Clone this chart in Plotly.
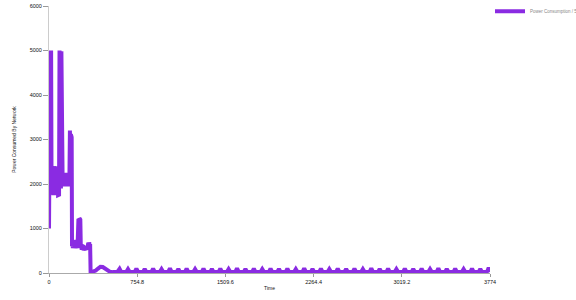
import plotly.graph_objects as go

series_name = "Power Consumption / 5"
x_title = "Time"
y_title = "Power Consumed By Network"

x_tick_vals = [0, 754.8, 1509.6, 2264.4, 3019.2, 3774]
x_tick_text = ["0", "754.8", "1509.6", "2264.4", "3019.2", "3774"]
y_tick_vals = [0, 1000, 2000, 3000, 4000, 5000, 6000]

time = [
    0, 2, 6, 10, 14, 18, 22,
    26, 30, 34, 38, 42, 46, 50, 54, 58, 62, 66, 70, 74, 78, 82, 86,
    90, 94, 98, 102, 106, 110, 114, 117,
    120, 124, 128, 132, 136, 140, 144, 148, 152, 156, 160, 164, 168,
    171, 175, 179, 183, 187, 191, 194, 197,
    200, 204, 208, 212, 216, 220, 224, 228, 232, 236, 240, 244, 248,
    252, 256, 260, 264, 268, 272,
    276, 280, 284, 288, 292, 296, 300, 304, 308, 312, 316, 320, 324, 328, 332,
    336, 340, 344, 348, 352, 356,
    360, 380, 400, 420, 440, 460, 480, 500, 520, 545, 584,
    604, 619, 661, 676, 691, 733, 748, 763, 804, 819, 834, 876, 891, 906, 948,
    963, 978, 1020, 1035, 1050, 1092, 1107, 1122, 1163, 1178, 1193, 1235, 1250,
    1265, 1307, 1322, 1337, 1379, 1394, 1409, 1451, 1466, 1481, 1522, 1537, 1552,
    1594, 1609, 1624, 1666, 1681, 1696, 1738, 1753, 1768, 1810, 1825, 1840, 1881,
    1896, 1911, 1953, 1968, 1983, 2025, 2040, 2055, 2097, 2112, 2127, 2169, 2184,
    2199, 2240, 2255, 2270, 2312, 2327, 2342, 2384, 2399, 2414, 2456, 2471, 2486,
    2528, 2543, 2558, 2599, 2614, 2629, 2671, 2686, 2701, 2743, 2758, 2773, 2815,
    2830, 2845, 2887, 2902, 2917, 2958, 2973, 2988, 3030, 3045, 3060, 3102, 3117,
    3132, 3174, 3189, 3204, 3246, 3261, 3276, 3317, 3332, 3347, 3389, 3404, 3419,
    3461, 3476, 3491, 3533, 3548, 3563, 3605, 3620, 3635, 3676, 3691, 3706, 3748,
    3763, 3774,
]

power = [
    1000, 5000, 1800, 5000, 1800, 5000, 1760,
    2400, 1750, 2400, 1750, 2400, 1750, 2400, 1750, 2400, 1750, 2400, 1750, 2400, 1750, 2400, 1760,
    5000, 1900, 5000, 1900, 4980, 1950, 4900, 1950,
    2250, 1950, 2250, 1950, 2250, 1950, 2250, 1950, 2250, 1950, 2250, 1950, 2250,
    3200, 2200, 3200, 2200, 3120, 2200, 3050, 600,
    750, 560, 740, 560, 730, 560, 740, 560, 720, 570, 740, 560, 740,
    1220, 560, 1230, 560, 1200, 600,
    620, 520, 610, 520, 600, 510, 600, 520, 610, 520, 600, 520, 610, 520, 620,
    680, 560, 690, 580, 650, 20,
    25, 35, 55, 100, 140, 135, 100, 60, 30, 20, 20,
    95, 20, 20, 85, 20, 20, 100, 20, 20, 90, 20, 20, 95, 20, 20,
    85, 20, 20, 105, 20, 20, 90, 20, 20, 95, 20, 20, 85,
    20, 20, 100, 20, 20, 90, 20, 20, 95, 20, 20, 85, 20,
    20, 105, 20, 20, 90, 20, 20, 95, 20, 20, 85, 20, 20,
    100, 20, 20, 90, 20, 20, 95, 20, 20, 85, 20, 20, 105,
    20, 20, 90, 20, 20, 95, 20, 20, 85, 20, 20, 100, 20,
    20, 90, 20, 20, 95, 20, 20, 85, 20, 20, 105, 20, 20,
    90, 20, 20, 95, 20, 20, 85, 20, 20, 100, 20, 20, 90,
    20, 20, 95, 20, 20, 85, 20, 20, 105, 20, 20, 90, 20,
    20, 95, 20, 20, 85, 20, 20, 100, 20, 20, 90, 20, 20,
    120, 20,
]

font_family = "Liberation Sans, Arial, sans-serif"
line_color = "#8a2be2"

fig = go.Figure()
fig.add_trace(go.Scatter(
    x=time, y=power, mode="lines", name=series_name,
    line=dict(color=line_color, width=4),
))

fig.update_layout(
    width=576, height=300,
    margin=dict(l=49, r=86, t=6, b=27, autoexpand=False),
    plot_bgcolor="white", paper_bgcolor="white",
    font=dict(family=font_family, size=5, color="#222"),
    showlegend=True,
    legend=dict(x=1.0, y=1.035, xanchor="left", yanchor="top",
                font=dict(size=4.5, color="#888"), bgcolor="rgba(0,0,0,0)",
                itemwidth=30, tracegroupgap=0),
    xaxis=dict(
        range=[0, 3774], tickvals=x_tick_vals, ticktext=x_tick_text,
        showgrid=False, zeroline=False, showline=True, linecolor="#aaa",
        linewidth=1, ticks="outside", ticklen=3, tickcolor="#999",
        tickfont=dict(size=5.5, color="#111"), automargin=False,
        title=dict(text=x_title, font=dict(size=5, color="#111"), standoff=2),
    ),
    yaxis=dict(
        range=[0, 6000], tickvals=y_tick_vals,
        showgrid=False, zeroline=False, showline=True, linecolor="#ccc",
        linewidth=1, ticks="outside", ticklen=5, tickcolor="#999",
        tickfont=dict(size=5.5, color="#111"), automargin=False,
        title=dict(text=y_title, font=dict(size=5, color="#111"), standoff=12),
    ),
)

fig.write_html("out.html", config={"displayModeBar": False},
               post_script="document.body.style.margin='0';document.body.style.overflow='hidden';")
